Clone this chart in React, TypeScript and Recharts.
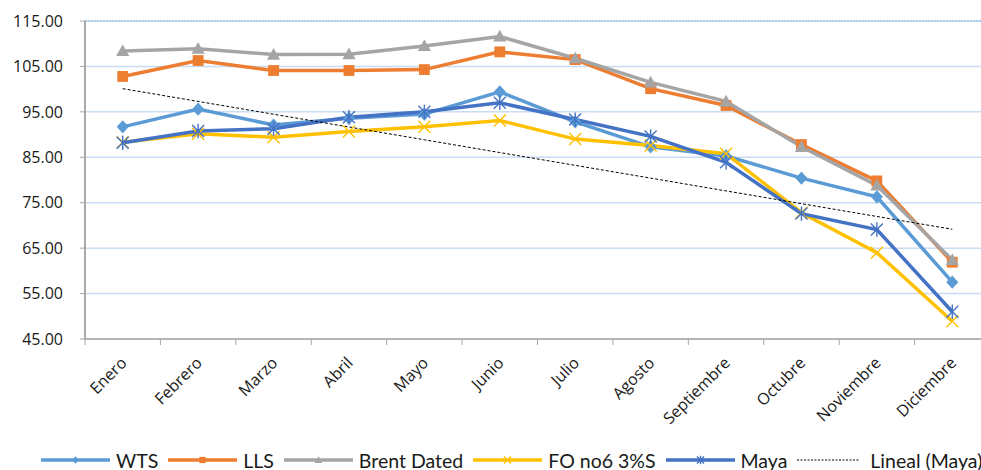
import React from 'react';
import { ComposedChart, Line, XAxis, YAxis, CartesianGrid, Legend, ReferenceLine } from 'recharts';

const months = ['Enero', 'Febrero', 'Marzo', 'Abril', 'Mayo', 'Junio', 'Julio', 'Agosto', 'Septiembre', 'Octubre', 'Noviembre', 'Diciembre'];
const wts = [91.7, 95.6, 92.1, 93.6, 94.5, 99.4, 92.8, 87.3, 85.3, 80.4, 76.3, 57.5];
const lls = [102.8, 106.3, 104.1, 104.1, 104.3, 108.2, 106.5, 100.1, 96.4, 87.8, 79.8, 61.9];
const brent = [108.4, 108.9, 107.6, 107.7, 109.5, 111.6, 106.8, 101.5, 97.3, 87.3, 78.8, 62.4];
const fo = [88.3, 90.2, 89.4, 90.7, 91.7, 93.1, 89.0, 87.6, 85.8, 72.8, 64.0, 48.9];
const maya = [88.2, 90.8, 91.3, 93.8, 95.0, 97.0, 93.3, 89.6, 83.9, 72.6, 69.1, 51.0];
const yTicks = [45, 55, 65, 75, 85, 95, 105, 115];

const C_WTS = '#5B9BD5';
const C_LLS = '#ED7D31';
const C_BRENT = '#A5A5A5';
const C_FO = '#FFC000';
const C_MAYA = '#4472C4';

const CHART_W = 1000;
const CHART_H = 470;
const MARGIN = { top: 21, right: 10, left: 0, bottom: 0 };
const Y_W = 85;
const X_H = 131;
const PLOT_W = CHART_W - MARGIN.left - MARGIN.right - Y_W;
const HALF = PLOT_W / months.length / 2;
const FONT = '"Open Sans", sans-serif';

// least-squares linear trend of the Maya series (Excel "Lineal" trendline)
function linearFit(vals: number[]): number[] {
  const n = vals.length;
  const xs = vals.map((_, i) => i + 1);
  const mx = xs.reduce((a, b) => a + b, 0) / n;
  const my = vals.reduce((a, b) => a + b, 0) / n;
  let sxy = 0;
  let sxx = 0;
  for (let i = 0; i < n; i++) {
    sxy += (xs[i] - mx) * (vals[i] - my);
    sxx += (xs[i] - mx) * (xs[i] - mx);
  }
  const slope = sxy / sxx;
  return xs.map((x) => my + slope * (x - mx));
}
const mayaTrend = linearFit(maya);

const data = months.map((m, i) => ({
  month: m,
  wts: wts[i],
  lls: lls[i],
  brent: brent[i],
  fo: fo[i],
  maya: maya[i],
  trend: mayaTrend[i],
}));

type MarkerKind = 'diamond' | 'square' | 'triangle' | 'cross' | 'star' | 'none';

function Marker({ kind, cx, cy, color, s }: { kind: MarkerKind; cx: number; cy: number; color: string; s: number }) {
  if (kind === 'diamond') {
    return <path d={`M${cx},${cy - s * 1.1} L${cx + s},${cy} L${cx},${cy + s * 1.1} L${cx - s},${cy} Z`} fill={color} />;
  }
  if (kind === 'square') {
    return <rect x={cx - s * 0.9} y={cy - s * 0.9} width={s * 1.8} height={s * 1.8} fill={color} />;
  }
  if (kind === 'triangle') {
    return <path d={`M${cx},${cy - s * 1.1} L${cx + s * 1.1},${cy + s * 0.85} L${cx - s * 1.1},${cy + s * 0.85} Z`} fill={color} />;
  }
  if (kind === 'cross') {
    return (
      <g stroke={color} strokeWidth={1.4}>
        <line x1={cx - s} y1={cy - s} x2={cx + s} y2={cy + s} />
        <line x1={cx - s} y1={cy + s} x2={cx + s} y2={cy - s} />
      </g>
    );
  }
  if (kind === 'star') {
    return (
      <g stroke={color} strokeWidth={1.4}>
        <line x1={cx - s} y1={cy - s} x2={cx + s} y2={cy + s} />
        <line x1={cx - s} y1={cy + s} x2={cx + s} y2={cy - s} />
        <line x1={cx} y1={cy - s * 1.2} x2={cx} y2={cy + s * 1.2} />
      </g>
    );
  }
  return null;
}

const makeDot = (kind: MarkerKind, color: string, s: number) => (props: any) => {
  const { cx, cy, index } = props;
  if (cx == null || cy == null) return <g key={`d-${kind}-${index}`} />;
  return (
    <g key={`d-${kind}-${index}`}>
      <Marker kind={kind} cx={cx} cy={cy} color={color} s={s} />
    </g>
  );
};

const XTick = (props: any) => {
  const { x, y, payload, index } = props;
  const last = index === months.length - 1;
  return (
    <g>
      <line x1={x - HALF} y1={y} x2={x - HALF} y2={y + 6} stroke="#A6A6A6" strokeWidth={1} />
      {last && <line x1={x + HALF} y1={y} x2={x + HALF} y2={y + 6} stroke="#A6A6A6" strokeWidth={1} />}
      <text
        x={x + 5}
        y={y + 25}
        textAnchor="end"
        transform={`rotate(-45, ${x + 5}, ${y + 25})`}
        fontFamily={FONT}
        fontSize={16}
        fill="#1a1a1a"
      >
        {payload.value}
      </text>
    </g>
  );
};

const legendItems: { name: string; color: string; kind: MarkerKind; dashed?: boolean }[] = [
  { name: 'WTS', color: C_WTS, kind: 'diamond' },
  { name: 'LLS', color: C_LLS, kind: 'square' },
  { name: 'Brent Dated', color: C_BRENT, kind: 'triangle' },
  { name: 'FO no6 3%S', color: C_FO, kind: 'cross' },
  { name: 'Maya', color: C_MAYA, kind: 'star' },
  { name: 'Lineal (Maya)', color: '#000', kind: 'none', dashed: true },
];

const LegendContent = () => (
  <div style={{ display: 'flex', alignItems: 'center', whiteSpace: 'nowrap', height: 24 }}>
    {legendItems.map((it) => (
      <div key={it.name} style={{ display: 'flex', alignItems: 'center', marginRight: 10 }}>
        <svg width={it.dashed ? 63 : 69} height={16} style={{ display: 'block' }}>
          {it.dashed ? (
            <line x1={0} y1={8} x2={63} y2={8} stroke="#000" strokeWidth={1} strokeDasharray="2 1.5" />
          ) : (
            <line x1={0} y1={8} x2={69} y2={8} stroke={it.color} strokeWidth={3.5} />
          )}
          <Marker kind={it.kind} cx={34.5} cy={8} color={it.color} s={3.5} />
        </svg>
        <span style={{ marginLeft: it.dashed ? 10 : 6, fontFamily: '"Lato", sans-serif', fontSize: 19.5, color: '#1a1a1a' }}>
          {it.name}
        </span>
      </div>
    ))}
  </div>
);

export default function App() {
  return (
    <div style={{ position: 'absolute', left: 0, top: 0, width: 981, height: 470, overflow: 'hidden', background: '#fff' }}>
      <ComposedChart width={CHART_W} height={CHART_H} data={data} margin={MARGIN}>
        <CartesianGrid vertical={false} horizontal stroke="#C9DCF2" strokeWidth={1.5} />
        <ReferenceLine y={115} stroke="#9DC3E6" strokeWidth={1.5} strokeDasharray="2 1" />
        <XAxis
          dataKey="month"
          height={X_H}
          interval={0}
          padding={{ left: HALF, right: HALF }}
          tickLine={false}
          tickSize={0}
          tickMargin={0}
          axisLine={{ stroke: '#A6A6A6', strokeWidth: 1.5 }}
          tick={<XTick />}
        />
        <YAxis
          width={Y_W}
          domain={[45, 115]}
          ticks={yTicks}
          interval={0}
          allowDataOverflow
          tickFormatter={(v: number) => v.toFixed(2)}
          tickSize={5}
          tickMargin={17}
          tickLine={{ stroke: '#A6A6A6' }}
          axisLine={{ stroke: '#8C8C8C', strokeWidth: 1.5 }}
          tick={{ fontFamily: FONT, fontSize: 16, fill: '#1a1a1a' }}
        />
        <Line type="linear" dataKey="wts" stroke={C_WTS} strokeWidth={3.5} dot={makeDot('diamond', C_WTS, 6)} activeDot={false} isAnimationActive={false} />
        <Line type="linear" dataKey="lls" stroke={C_LLS} strokeWidth={3.5} dot={makeDot('square', C_LLS, 6)} activeDot={false} isAnimationActive={false} />
        <Line type="linear" dataKey="brent" stroke={C_BRENT} strokeWidth={3.5} dot={makeDot('triangle', C_BRENT, 6)} activeDot={false} isAnimationActive={false} />
        <Line type="linear" dataKey="fo" stroke={C_FO} strokeWidth={3.5} dot={makeDot('cross', C_FO, 6)} activeDot={false} isAnimationActive={false} />
        <Line type="linear" dataKey="maya" stroke={C_MAYA} strokeWidth={3.5} dot={makeDot('star', C_MAYA, 6)} activeDot={false} isAnimationActive={false} />
        <Line type="linear" dataKey="trend" stroke="#000" strokeWidth={1} strokeDasharray="3 2" dot={false} activeDot={false} isAnimationActive={false} />
        <Legend
          layout="horizontal"
          verticalAlign="middle"
          align="center"
          wrapperStyle={{ top: 448, left: 41, width: 1000, height: 24 }}
          content={() => <LegendContent />}
        />
      </ComposedChart>
    </div>
  );
}
